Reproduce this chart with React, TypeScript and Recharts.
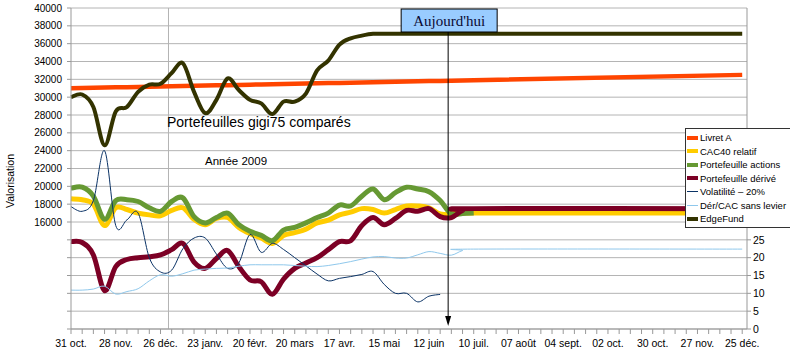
import {
  CartesianGrid,
  Legend,
  Line,
  LineChart,
  ReferenceLine,
  XAxis,
  YAxis,
} from 'recharts'

// jours depuis le 31 oct. 2008 (hebdo jusqu'à aujourd'hui, puis projection)
const days = [
  0, 7, 14, 21, 28, 35, 42, 49, 56, 63, 70, 77, 84, 91, 98, 105, 112, 119, 126, 133,
  140, 147, 154, 161, 168, 175, 182, 189, 196, 203, 210, 217, 224, 231, 238, 245, 252, 420,
]

const tickLabels = [
  '31 oct.', '28 nov.', '26 déc.', '23 janv.', '20 févr.', '20 mars', '17 avr.', '15 mai',
  '12 juin', '10 juil.', '07 août', '04 sept.', '02 oct.', '30 oct.', '27 nov.', '25 déc.',
]

const livretA = [
  31000, 31025, 31050, 31075, 31100, 31125, 31150, 31175, 31200, 31225, 31250, 31275, 31300,
  31325, 31350, 31375, 31400, 31425, 31450, 31475, 31500, 31525, 31550, 31575, 31600, 31625,
  31650, 31675, 31700, 31725, 31750, 31775, 31800, 31825, 31850, 31875, 31900, 32500,
]
const cac40 = [
  18600, 18500, 18000, 15600, 17600, 17400, 17000, 16800, 16700, 17300, 17600, 16300, 15700,
  16400, 16500, 15400, 14700, 14200, 13600, 14500, 14800, 15200, 15900, 16200, 16800, 17100,
  17500, 17400, 17000, 17400, 17800, 17800, 17600, 16900, 16900, 17000, 17000, 17000,
]
const actions = [
  19800, 19900, 18900, 16300, 18400, 18500, 18300, 17600, 17200, 18300, 18700, 16600, 15900,
  16500, 17000, 15700, 14950, 14500, 13900, 15100, 15400, 15900, 16500, 17000, 17900, 17800,
  18900, 19700, 18500, 19300, 19900, 19700, 19400, 18400, 16900, 16950, 17000, null,
]
const derive = [
  13800, 13700, 12300, 8300, 11000, 11800, 12000, 12100, 12300, 12900, 13600, 11500, 10800,
  11900, 12800, 11000, 9500, 9300, 7900, 9600, 10800, 11400, 12000, 12900, 13800, 13900,
  15600, 16500, 15700, 16400, 17300, 17200, 17500, 16600, 16500, 17300, 17500, 17500,
]
// axe de droite
const volatilite = [
  34.3, 33, 36, 50, 29, 30.6, 32.5, 20, 16, 16.5, 22.5, 25.5, 25.5, 21, 17, 18.5, 26.5, 21.5,
  24, 22.3, 20, 17.7, 15.4, 13.5, 14.2, 14.7, 15.3, 16.1, 12.5, 10, 10, 7.6, 9.2, 9.7,
  null, null, null, null,
]
const derCac = [
  10.9, 10.9, 11.2, 12, 9.8, 10.5, 11.3, 13.5, 15.2, 14.8, 15.5, 16.5, 16.8, 17, 17.1, 17.6,
  18, 18, 18, 18, 17.8, 17.6, 17.5, 17.8, 18.3, 18.9, 19.6, 20.2, 20.3, 19.9, 19.9, 20.8,
  21.7, 21.2, 20.7, 22, 22.4, 22.4,
]
const edgeFund = [
  30000, 30300, 28900, 24600, 28400, 28900, 30600, 31400, 31500, 32700, 33800, 30600, 28200,
  29700, 32100, 30800, 29700, 29300, 28100, 29500, 29500, 30400, 33000, 34100, 35900, 36600,
  36900, 37100, 37100, 37100, 37100, 37100, 37100, 37100, 37100, 37100, 37100, 37100,
]

const leftTicks = Array.from({ length: 19 }, (_, i) => 4000 + i * 2000)
const rightTicks = [0, 5, 10, 15, 20, 25]
const xTicks = Array.from({ length: 61 }, (_, i) => i * 7)
const today = 236
const newYear = 61

const data = days.map((day, i) => ({
  day,
  livretA: livretA[i],
  cac40: cac40[i],
  actions: actions[i],
  derive: derive[i],
  volatilite: volatilite[i],
  derCac: derCac[i],
  edgeFund: edgeFund[i],
}))

// courbe lissée façon Excel (Catmull-Rom)
function smooth(context: any) {
  let pts: number[][] = []
  return {
    areaStart() {},
    areaEnd() {},
    lineStart() {
      pts = []
    },
    lineEnd() {
      if (!pts.length) return
      context.moveTo(pts[0][0], pts[0][1])
      for (let i = 0; i < pts.length - 1; i++) {
        const p0 = pts[i - 1] || pts[i]
        const p1 = pts[i]
        const p2 = pts[i + 1]
        const p3 = pts[i + 2] || p2
        context.bezierCurveTo(
          p1[0] + (p2[0] - p0[0]) / 6,
          p1[1] + (p2[1] - p0[1]) / 6,
          p2[0] - (p3[0] - p1[0]) / 6,
          p2[1] - (p3[1] - p1[1]) / 6,
          p2[0],
          p2[1],
        )
      }
    },
    point(x: number, y: number) {
      pts.push([x, y])
    },
  }
}

const series = [
  { key: 'livretA', name: 'Livret A', color: '#ff4500', width: 4.5, axis: 'left', type: 'linear' },
  { key: 'cac40', name: 'CAC40 relatif', color: '#ffcc00', width: 5, axis: 'left', type: smooth },
  { key: 'actions', name: 'Portefeuille actions', color: '#669933', width: 5, axis: 'left', type: smooth },
  { key: 'derive', name: 'Portefeuille dérivé', color: '#7c0025', width: 5, axis: 'left', type: smooth },
  { key: 'volatilite', name: 'Volatilité – 20%', color: '#0b3366', width: 1, axis: 'right', type: smooth },
  { key: 'derCac', name: 'Dér/CAC sans levier', color: '#8fc8ec', width: 1, axis: 'right', type: smooth },
  { key: 'edgeFund', name: 'EdgeFund', color: '#333300', width: 4, axis: 'left', type: smooth },
]

const FONT = 'Arial, "Liberation Sans", sans-serif'
const GRID = '#b4b4b4'

function LeftTick({ x, y, payload }: any) {
  if (payload.value < 16000) return null
  return (
    <text x={x} y={y} dy='0.35em' textAnchor='end' fontSize={10} fill='#000' fontFamily={FONT}>
      {payload.value}
    </text>
  )
}

function BottomTick({ x, y, payload }: any) {
  if (payload.value % 28 !== 0) return null
  return (
    <text x={x} y={y} dy='0.71em' textAnchor='middle' fontSize={10.5} fill='#000' fontFamily={FONT}>
      {tickLabels[payload.value / 28]}
    </text>
  )
}

// ligne "Aujourd'hui" avec son étiquette et la flèche
function TodayShape(props: any) {
  const { x1, y1, y2 } = props
  const bottom = Math.max(y1, y2)
  const top = 32
  return (
    <g>
      <line x1={x1} y1={top} x2={x1} y2={bottom - 6} stroke='#000' strokeWidth={1} />
      <polygon points={`${x1 - 3},${bottom - 13} ${x1 + 3},${bottom - 13} ${x1},${bottom - 3}`} fill='#000' />
      <rect x={x1 - 47} y={9} width={96} height={23} fill='#99ccff' stroke='#000' strokeWidth={1} />
      <text
        x={x1 + 1}
        y={21}
        dy='0.35em'
        textAnchor='middle'
        fontSize={15}
        fill='#0a0a33'
        fontFamily='"Liberation Serif", "Times New Roman", serif'
      >
        Aujourd'hui
      </text>
    </g>
  )
}

function LegendBox() {
  return (
    <div
      style={{
        border: '1px solid #333',
        background: '#fff',
        height: 100,
        boxSizing: 'border-box',
        paddingTop: 2,
        paddingLeft: 1,
        fontFamily: FONT,
        fontSize: 9.5,
        color: '#000',
      }}
    >
      {series.map((s) => (
        <div key={s.key} style={{ display: 'flex', alignItems: 'center', height: 13.5, whiteSpace: 'nowrap' }}>
          <span
            style={{
              display: 'inline-block',
              width: 11,
              height: s.width > 2 ? 4 : 1,
              background: s.color,
              marginRight: 2,
            }}
          />
          {s.name}
        </div>
      ))}
    </div>
  )
}

export default function App() {
  return (
    <div
      style={{
        position: 'absolute',
        left: 0,
        top: 0,
        width: 790,
        height: 357,
        overflow: 'hidden',
        background: '#fff',
        fontFamily: FONT,
      }}
    >
      <LineChart width={790} height={357} data={data} margin={{ top: 8, right: 0, bottom: 0, left: 0 }}>
        <CartesianGrid yAxisId='left' vertical={false} stroke={GRID} />
        <XAxis
          dataKey='day'
          type='number'
          domain={[0, 423]}
          ticks={xTicks}
          interval={0}
          height={28}
          tickSize={5}
          tickMargin={6}
          stroke='#999'
          tick={<BottomTick />}
        />
        <YAxis
          yAxisId='left'
          domain={[4000, 40000]}
          ticks={leftTicks}
          interval={0}
          width={71}
          tickSize={4}
          tickMargin={5}
          stroke='#999'
          tick={<LeftTick />}
        />
        <YAxis
          yAxisId='right'
          orientation='right'
          domain={[0, 90]}
          ticks={rightTicks}
          interval={0}
          width={43}
          tickSize={4}
          tickMargin={2}
          stroke='#999'
          tick={{ fontSize: 10.5, fill: '#000', fontFamily: FONT }}
        />
        <ReferenceLine yAxisId='left' x={newYear} stroke={GRID} />
        {series.map((s) => (
          <Line
            key={s.key}
            yAxisId={s.axis}
            type={s.type as any}
            dataKey={s.key}
            name={s.name}
            stroke={s.color}
            strokeWidth={s.width}
            dot={false}
            activeDot={false}
            isAnimationActive={false}
          />
        ))}
        <ReferenceLine yAxisId='left' x={today} shape={(p: any) => <TodayShape {...p} />} />
        <Legend
          layout='vertical'
          align='center'
          verticalAlign='middle'
          wrapperStyle={{ position: 'absolute', left: 685, top: 128, width: 110, height: 100 }}
          content={<LegendBox />}
        />
      </LineChart>
      <div style={{ position: 'absolute', left: 167, top: 114, fontSize: 14, lineHeight: '16px', whiteSpace: 'nowrap' }}>
        Portefeuilles gigi75 comparés
      </div>
      <div style={{ position: 'absolute', left: 205, top: 154, fontSize: 11.5, lineHeight: '14px', whiteSpace: 'nowrap' }}>
        Année 2009
      </div>
      <div
        style={{
          position: 'absolute',
          left: 10,
          top: 181,
          fontSize: 10.5,
          lineHeight: '12px',
          whiteSpace: 'nowrap',
          transform: 'translate(-50%, -50%) rotate(-90deg)',
        }}
      >
        Valorisation
      </div>
    </div>
  )
}
